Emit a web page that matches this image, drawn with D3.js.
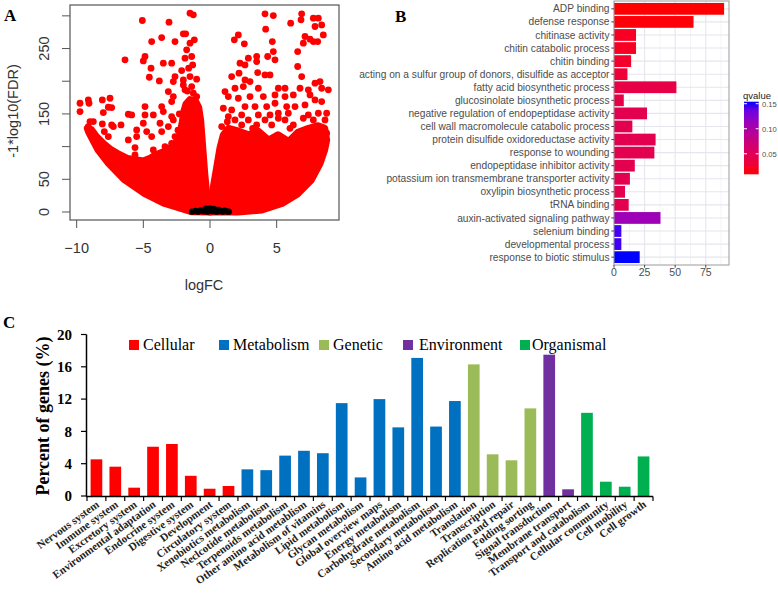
<!DOCTYPE html>
<html><head><meta charset="utf-8">
<script src="https://cdn.jsdelivr.net/npm/d3@7"></script>
<style>body{margin:0;background:#fff} svg{display:block}</style>
</head><body>
<svg id="fig" width="778" height="594"></svg>
<script>
// ---------- Panel A data (logFC, -log10 FDR) ----------
const volcanoXTicks = [-10, -5, 0, 5];
const volcanoYTicks = [0, 50, 100, 150, 200, 250, 300];
const volcanoYLabels = [0, 50, 150, 250];
const leftDenseEdge = [[0,0],[-1.4,0.5],[-3.4,13],[-4.9,28],[-6.4,49],[-7.6,74],[-8.4,95],[-9.1,122],[-9.2,128],
  [-8.9,126],[-8.5,115],[-8.0,105],[-7.4,95],[-6.8,88],[-6.2,82],[-5.6,80],[-5.0,78],[-4.5,82],[-4.0,88],[-3.5,92],
  [-3.0,98],[-2.6,105],[-2.3,115],[-2.1,135],[-1.95,155],[-1.8,165],[-1.5,172],[-1.1,170],[-0.85,160],[-0.7,140],
  [-0.55,100],[-0.4,60],[-0.25,28],[-0.1,8]];
const rightDenseEdge = [[0,0],[0.05,8],[0.25,38],[0.5,68],[0.75,98],[1.0,118],[1.4,128],[2.1,124],[2.9,118],[3.6,124],
  [4.4,110],[5.1,118],[5.9,108],[6.6,122],[7.4,128],[8.1,132],[8.6,128],[8.75,110],[8.6,95],[8.25,74],[7.6,49],
  [6.6,28],[5.4,13],[3.9,3],[2.1,0],[0.5,0]];
const leftScatter = [[-9.75,166.3],[-9.75,153.6],[-9.125,171.4],[-9.075,166.3],[-8.075,171.4],[-7.5,174],[-7.625,160.2],
  [-7.375,159.7],[-8.0,152.1],[-9.0,138.3],[-8.75,138.3],[-9.125,130.6],[-8.075,134.7],[-7.375,133.2],[-7.25,130.6],
  [-6.675,133.2],[-7.925,123],[-7.625,115.3],[-6.125,110.2],[-5.5,125.5],[-5.5,115.3],[-5.875,148.5],[-6.125,149.5],
  [-5.625,98.5],[-5.625,87.3],[-5.125,72],[-4.875,161.2],[-4.875,148.5],[-5.0,135.7],[-4.75,123],[-4.375,115.3],
  [-4.25,148.5],[-3.625,161.2],[-3.5,153.6],[-3.75,135.7],[-3.625,123],[-4.25,94.9],[-4.25,84.7],[-3.375,100],
  [-2.875,146],[-2.75,140.8],[-3.125,130.6],[-2.625,115.3],[-2.875,105.1],[-2.125,130.6],[-2.0,105.1],
  [-5.075,292.9],[-3.075,290.3],[-1.5,304.1],[-1.25,301.5],[-3.625,266.8],[-4.375,260.7],[-2.625,260.7],[-2.0,272.5],
  [-1.825,272.5],[-1.5,258.2],[-1.175,263.3],[-6.375,232.7],[-4.875,237.8],[-5.0,231.1],[-3.5,227.6],[-2.875,227.6],
  [-1.75,248],[-1.875,235.2],[-1.375,237.8],[-4.425,219.9],[-4.55,206.1],[-3.8,200.5],[-2.625,207.2],[-2.75,199.5],
  [-2.125,216.3],[-2.0,202],[-1.5,207.2],[-1.0,203.1],[-3.125,184.2],[-2.75,176.5],[-2.875,168.9],[-2.0,194.4],
  [-1.875,186.8],[-1.375,191.8],[-1.25,181.6],[-1.0,176.5],[-1.6,220],[-1.3,225],[-1.7,185],[-2.3,150],[-2.4,125]];
const rightScatter = [[4.125,303.1],[4.75,300.5],[4.175,279.6],[4.675,260.7],[2.125,270.9],[1.825,263.3],[2.575,257.2],
  [6.05,288.8],[6.875,303.1],[6.825,293.9],[7.75,296.4],[8.125,296.4],[7.875,283.7],[8.375,286.2],[8.5,270.9],
  [7.125,268.4],[7.5,264.3],[7.75,260.7],[8.075,260.7],[7.0,258.2],[6.575,245.4],[4.75,245.4],[4.325,237.8],
  [4.875,232.7],[3.5,237.8],[2.875,235.2],[2.25,227.6],[2.625,225],[3.5,230.1],[6.575,222.5],[2.175,212.3],
  [3.575,213.3],[4.125,209.7],[4.5,209.7],[6.875,207.2],[1.625,207.2],[2.625,202],[3.0,199.5],[8.25,199.5],
  [7.875,197],[8.875,186.8],[8.375,189.3],[5.625,189.3],[5.125,189.3],[6.75,189.3],[7.375,186.8],[3.625,189.3],
  [2.5,191.8],[1.875,189.3],[1.125,184.2],[1.375,176.5],[2.125,174],[3.0,176.5],[4.0,176.5],[4.875,179.1],
  [5.625,176.5],[6.25,179.1],[7.5,179.1],[7.875,171.4],[8.375,168.9],[7.125,163.8],[6.375,161.2],[5.75,161.2],
  [4.875,166.3],[4.25,161.2],[3.375,161.2],[2.625,161.2],[1.0,158.7],[1.625,156.1],[8.75,151],[8.125,151],
  [7.375,148.5],[5.875,151],[5.125,151],[4.5,148.5],[3.625,148.5],[2.375,148.5],[1.375,145.9],[1.875,140.8],
  [2.875,140.8],[4.125,140.8],[5.125,143.4],[6.25,133.2],[7.0,143.4],[7.75,140.8],[8.625,140.8],[5.625,140.8],
  [4.625,133.2],[3.5,133.2],[2.375,133.2],[0.875,130.6],[8.75,120.4],[8.5,105.1],[1.3,138],[3.2,128],[6.0,128]];
const nsPoints = [[-1.35,0.5],[-1.1,1.5],[-0.9,0.5],[-0.7,2.5],[-0.5,1],[-0.35,3.5],[-0.2,0.5],[-0.05,2],[0.1,4],
  [0.2,1],[0.35,2.5],[0.5,0.5],[0.65,3],[0.8,1.5],[0.95,0.5],[1.1,2],[1.25,1],[1.4,0.5],[0.0,5.5],[0.3,4.5],[-0.3,5]];

// ---------- Panel B data ----------
const goTerms = ["ADP binding","defense response","chitinase activity","chitin catabolic process","chitin binding",
  "acting on a sulfur group of donors, disulfide as acceptor","fatty acid biosynthetic process",
  "glucosinolate biosynthetic process","negative regulation of endopeptidase activity",
  "cell wall macromolecule catabolic process","protein disulfide oxidoreductase activity","response to wounding",
  "endopeptidase inhibitor activity","potassium ion transmembrane transporter activity","oxylipin biosynthetic process",
  "tRNA binding","auxin-activated signaling pathway","selenium binding","developmental process",
  "response to biotic stimulus"];
const goCounts = [90, 65, 18, 18, 14, 11, 51, 8, 27, 15, 34, 33, 17, 13, 9, 12, 38, 6, 6, 21];
const goQvalues = [0.009, 0.011, 0.02, 0.02, 0.025, 0.03, 0.04, 0.04, 0.045, 0.045, 0.045, 0.045, 0.045, 0.045,
  0.045, 0.045, 0.11, 0.148, 0.148, 0.154];
const goXTicks = [0, 25, 50, 75];
const qLegendTicks = [0.05, 0.10, 0.15];

// ---------- Panel C data ----------
const keggCategories = ["Nervous system","Immune system","Excretory system","Environmental adaptation","Endocrine system",
  "Digestive system","Development","Circulatory system","Xenobiotics metabolism","Neclcotide metabolism",
  "Terpenoids metabolism","Other amino acid metablism","Metabolism of vitamins","Lipid metabolism","Glycan metabolism",
  "Global overview maps","Energy metabolism","Carbohydrate metabolism","Secondary metabolism","Amino acid metabolism",
  "Translation","Transcription","Replication and repair","Folding sorting","Signal transduction","Membrane transport",
  "Transport and catabolism","Cellular community","Cell mobility","Cell growth"];
const keggPercent = [4.54, 3.63, 1.03, 6.1, 6.44, 2.5, 0.9, 1.24, 3.3, 3.2, 5.0, 5.6, 5.3, 11.5, 2.3, 12.0, 8.5, 17.1,
  8.6, 11.76, 16.3, 5.16, 4.42, 10.85, 17.5, 0.83, 10.3, 1.77, 1.15, 4.9];
const keggGroup = ["Cellular","Cellular","Cellular","Cellular","Cellular","Cellular","Cellular","Cellular",
  "Metabolism","Metabolism","Metabolism","Metabolism","Metabolism","Metabolism","Metabolism","Metabolism",
  "Metabolism","Metabolism","Metabolism","Metabolism","Genetic","Genetic","Genetic","Genetic",
  "Environment","Environment","Organismal","Organismal","Organismal","Organismal"];
const groupNames = ["Cellular","Metabolism","Genetic","Environment","Organismal"];
const groupColors = ["#FF0000","#0070C0","#9BBB59","#7030A0","#00B050"];
const keggYTicks = [0, 4, 8, 12, 16, 20];

// ================= drawing =================
const svg = d3.select("#fig");
svg.append("rect").attr("width",778).attr("height",594).attr("fill","#fff");
const SERIF = "'Liberation Serif','Times New Roman',serif";
const SANS = "'Liberation Sans',Arial,Helvetica,sans-serif";

// ----- Panel A -----
const gA = svg.append("g");
const xA = d3.scaleLinear().domain([-10.5, 9.675]).range([70, 339]);
const yA = d3.scaleLinear().domain([-12.25, 316.6]).range([220, 5]);
const areaLine = d3.line().x(d=>xA(d[0])).y(d=>yA(d[1])).curve(d3.curveLinearClosed);
[leftDenseEdge, rightDenseEdge].forEach(p=>{
  gA.append("path").attr("d", areaLine(p)).attr("fill","#FF0000").attr("stroke","#FF0000")
    .attr("stroke-width",7).attr("stroke-linejoin","round");
});
gA.selectAll("circle.sig").data(leftScatter.concat(rightScatter)).join("circle").attr("class","sig")
  .attr("cx",d=>xA(d[0])).attr("cy",d=>yA(d[1])).attr("r",3.4).attr("fill","#FF0000");
gA.selectAll("circle.ns").data(nsPoints).join("circle").attr("class","ns")
  .attr("cx",d=>xA(d[0])).attr("cy",d=>yA(d[1])).attr("r",3.2).attr("fill","#000");
gA.append("rect").attr("x",70).attr("y",5).attr("width",269).attr("height",215)
  .attr("fill","none").attr("stroke","#555").attr("stroke-width",1.2);
const fmtA = d3.format("d");
volcanoXTicks.forEach(t=>{
  gA.append("line").attr("x1",xA(t)).attr("x2",xA(t)).attr("y1",220).attr("y2",228).attr("stroke","#555");
  gA.append("text").attr("x",xA(t)).attr("y",253).attr("text-anchor","middle")
    .attr("font-family",SANS).attr("font-size",14.5).attr("fill","#333").text(fmtA(t));
});
volcanoYTicks.forEach(t=>{
  gA.append("line").attr("x1",62).attr("x2",70).attr("y1",yA(t)).attr("y2",yA(t)).attr("stroke","#555");
});
volcanoYLabels.forEach(t=>{
  gA.append("text").attr("transform",`translate(48.5,${yA(t)}) rotate(-90)`).attr("text-anchor","middle")
    .attr("font-family",SANS).attr("font-size",14.5).attr("fill","#333").text(fmtA(t));
});
gA.append("text").attr("x",204).attr("y",290).attr("text-anchor","middle").attr("font-family",SANS)
  .attr("font-size",14.5).attr("fill","#333").text("logFC");
gA.append("text").attr("transform","translate(17.5,111) rotate(-90)").attr("text-anchor","middle")
  .attr("font-family",SANS).attr("font-size",14.5).attr("fill","#333").text("-1*log10(FDR)");
svg.append("text").attr("x",4).attr("y",21).attr("font-family",SERIF).attr("font-weight","bold")
  .attr("font-size",17).text("A");

// ----- Panel B -----
const gB = svg.append("g");
const xB = d3.scaleLinear().domain([0, 94]).range([614, 729]);
const yB = d3.scalePoint().domain(goTerms).range([1, 265]).padding(0.6);
const stepB = yB.step();
const colorB = d3.scaleLinear().domain([0.009, 0.154]).range(["#FF0000","#0000FF"]).interpolate(d3.interpolateLab);
gB.append("rect").attr("x",614).attr("y",1).attr("width",115).attr("height",264).attr("fill","#fff");
[12.5,37.5,62.5,87.5].forEach(t=>gB.append("line").attr("x1",xB(t)).attr("x2",xB(t)).attr("y1",1).attr("y2",265)
  .attr("stroke","#ececf2").attr("stroke-width",0.6));
goXTicks.forEach(t=>gB.append("line").attr("x1",xB(t)).attr("x2",xB(t)).attr("y1",1).attr("y2",265)
  .attr("stroke","#e6e6ee").attr("stroke-width",1.1));
goTerms.forEach(t=>gB.append("line").attr("x1",614).attr("x2",729).attr("y1",yB(t)).attr("y2",yB(t))
  .attr("stroke","#e6e6ee").attr("stroke-width",1.1));
gB.selectAll("rect.bar").data(goTerms).join("rect").attr("class","bar")
  .attr("x",xB(0)).attr("y",t=>yB(t)-0.45*stepB).attr("height",0.9*stepB)
  .attr("width",(t,i)=>xB(goCounts[i])-xB(0)).attr("fill",(t,i)=>colorB(goQvalues[i]));
gB.append("rect").attr("x",614).attr("y",1).attr("width",115).attr("height",264).attr("fill","none")
  .attr("stroke","#9a9a9a").attr("stroke-width",1);
goTerms.forEach(t=>{
  gB.append("line").attr("x1",611.3).attr("x2",614).attr("y1",yB(t)).attr("y2",yB(t)).attr("stroke","#444");
  gB.append("text").attr("x",609.5).attr("y",yB(t)).attr("dy","0.35em").attr("text-anchor","end")
    .attr("font-family",SANS).attr("font-size",10.2).attr("fill","#4d4d4d").text(t);
});
goXTicks.forEach(t=>{
  gB.append("line").attr("x1",xB(t)).attr("x2",xB(t)).attr("y1",265).attr("y2",267.7).attr("stroke","#444");
  gB.append("text").attr("x",xB(t)).attr("y",275.5).attr("text-anchor","middle")
    .attr("font-family",SANS).attr("font-size",10.5).attr("fill","#4d4d4d").text(t);
});
// legend
const yLeg = d3.scaleLinear().domain([0.009, 0.154]).range([174.3, 101.7]);
const defs = svg.append("defs");
const grad = defs.append("linearGradient").attr("id","qgrad").attr("x1",0).attr("x2",0).attr("y1",1).attr("y2",0);
d3.range(0, 1.0001, 0.1).forEach(f=>{
  const v = 0.009 + f*(0.154-0.009);
  grad.append("stop").attr("offset",f).attr("stop-color",colorB(v));
});
gB.append("text").attr("x",743).attr("y",98.5).attr("font-family",SANS).attr("font-size",9.5).attr("fill","#222").text("qvalue");
gB.append("rect").attr("x",744).attr("y",101.7).attr("width",14.7).attr("height",72.6).attr("fill","url(#qgrad)");
qLegendTicks.forEach(t=>{
  gB.append("line").attr("x1",744).attr("x2",747).attr("y1",yLeg(t)).attr("y2",yLeg(t)).attr("stroke","#fff");
  gB.append("line").attr("x1",755.7).attr("x2",758.7).attr("y1",yLeg(t)).attr("y2",yLeg(t)).attr("stroke","#fff");
  gB.append("text").attr("x",762).attr("y",yLeg(t)+0.5).attr("dy","0.35em").attr("font-family",SANS)
    .attr("font-size",7.6).attr("fill","#4d4d4d").text(d3.format(".2f")(t));
});
svg.append("text").attr("x",395).attr("y",22).attr("font-family",SERIF).attr("font-weight","bold")
  .attr("font-size",17).text("B");

// ----- Panel C -----
const gC = svg.append("g");
const xC = d3.scaleBand().domain(keggCategories).range([87, 653]).paddingInner(0.38).paddingOuter(0.19);
const yC = d3.scaleLinear().domain([0, 20]).range([496, 334.5]);
const colorC = d3.scaleOrdinal().domain(groupNames).range(groupColors);
gC.selectAll("rect.kb").data(keggCategories).join("rect").attr("class","kb")
  .attr("x",d=>xC(d)).attr("width",xC.bandwidth())
  .attr("y",(d,i)=>yC(keggPercent[i])).attr("height",(d,i)=>yC(0)-yC(keggPercent[i]))
  .attr("fill",(d,i)=>colorC(keggGroup[i]));
// axes
gC.append("line").attr("x1",86.5).attr("x2",86.5).attr("y1",334.5).attr("y2",496.5).attr("stroke","#000").attr("stroke-width",1.5);
gC.append("line").attr("x1",86).attr("x2",653).attr("y1",496.5).attr("y2",496.5).attr("stroke","#000").attr("stroke-width",1.5);
keggYTicks.forEach(t=>{
  gC.append("line").attr("x1",81).attr("x2",86.5).attr("y1",yC(t)).attr("y2",yC(t)).attr("stroke","#000").attr("stroke-width",1.2);
  gC.append("text").attr("x",72).attr("y",yC(t)).attr("dy","0.35em").attr("text-anchor","end")
    .attr("font-family",SERIF).attr("font-weight","bold").attr("font-size",15).text(t);
});
const step = xC.step();
d3.range(keggCategories.length+1).forEach(i=>{
  const x = 87 + i*step;
  gC.append("line").attr("x1",x).attr("x2",x).attr("y1",496.5).attr("y2",501).attr("stroke","#000").attr("stroke-width",1.2);
});
keggCategories.forEach(c=>{
  const cx = xC(c) + xC.bandwidth()/2;
  gC.append("text").attr("transform",`translate(${cx+3.5},506) rotate(-36)`).attr("text-anchor","end")
    .attr("font-family",SERIF).attr("font-weight","bold").attr("font-size",11).attr("fill","#222").text(c);
});
gC.append("text").attr("transform","translate(49,416) rotate(-90)").attr("text-anchor","middle")
  .attr("font-family",SERIF).attr("font-weight","bold").attr("font-size",18).text("Percent of genes (%)");
// legend
const legendX = [129, 219, 319, 403, 520];
const legendTextGap = [14, 14, 14, 16, 12];
groupNames.forEach((g,i)=>{
  gC.append("rect").attr("x",legendX[i]).attr("y",340).attr("width",10).attr("height",10).attr("fill",groupColors[i]);
  gC.append("text").attr("x",legendX[i]+legendTextGap[i]).attr("y",350).attr("font-family",SERIF)
    .attr("font-size",16).text(g);
});
svg.append("text").attr("x",3).attr("y",328).attr("font-family",SERIF).attr("font-weight","bold")
  .attr("font-size",17).text("C");
</script></body></html>
